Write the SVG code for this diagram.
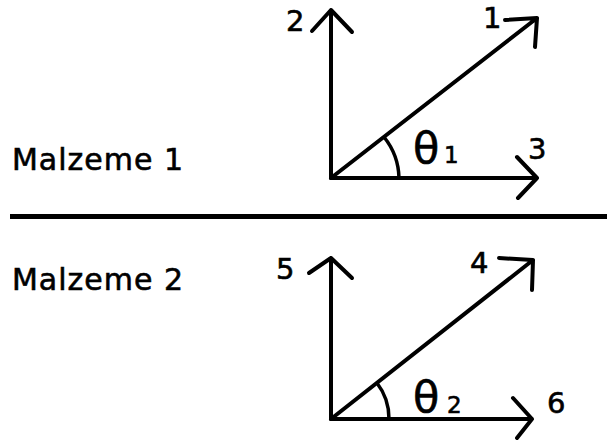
<svg xmlns="http://www.w3.org/2000/svg" width="607" height="443" viewBox="0 0 607 443">
<style>
.ax{fill:none;stroke:#000;stroke-width:4;stroke-linecap:round;stroke-linejoin:round}
.arc{fill:none;stroke:#000;stroke-width:3.5}
.t{font-family:"DejaVu Sans","Verdana",sans-serif;fill:#000;stroke:#000;stroke-width:0.6}
.lbl{font-size:29px}
.big{font-size:30px}
.th{font-size:43px}
.sub{font-size:23px}
</style>
<rect width="607" height="443" fill="#fff"/>
<g id="separator"><line x1="10" y1="216.5" x2="607" y2="216.5" stroke="#000" stroke-width="5"/></g>
<g id="material1">
<text class="t big" x="12" y="170" textLength="171" lengthAdjust="spacing">Malzeme 1</text>
</g>
<g id="material2">
<text class="t big" x="12" y="290" textLength="171" lengthAdjust="spacing">Malzeme 2</text>
</g>
<g id="connectors">
<g id="axes1">
<path class="ax" d="M331,178 L331,10 M312,31 L331,10 L352,32"/>
<path class="ax" d="M331,178 L537,178 M517,157 L537,178 L518,198"/>
<path class="ax" d="M331,178 L537,18 M505,20 L537,18 L535,47"/>
<path class="arc" d="M384,137 A68,68 0 0 1 399,178"/>
</g>
<g id="axes2">
<path class="ax" d="M331,419 L331,258 M309,273 L331,258 L352,278"/>
<path class="ax" d="M331,419 L532,419 M513,398 L532,419 L517,438"/>
<path class="ax" d="M331,419 L533,260 M499,258 L533,260 L532,290"/>
<path class="arc" d="M377,383 A58,58 0 0 1 389,419"/>
</g>
</g>
<g id="labels1">
<text class="t lbl" x="286" y="31">2</text>
<text class="t lbl" x="483" y="28">1</text>
<text class="t lbl" x="528" y="159">3</text>
<text class="t th" x="413" y="163">θ</text>
<text class="t sub" x="444" y="163">1</text>
</g>
<g id="labels2">
<text class="t lbl" x="276" y="279">5</text>
<text class="t lbl" x="470" y="273">4</text>
<text class="t lbl" x="547" y="413">6</text>
<text class="t th" x="413" y="412">θ</text>
<text class="t sub" x="447" y="413">2</text>
</g>
</svg>
